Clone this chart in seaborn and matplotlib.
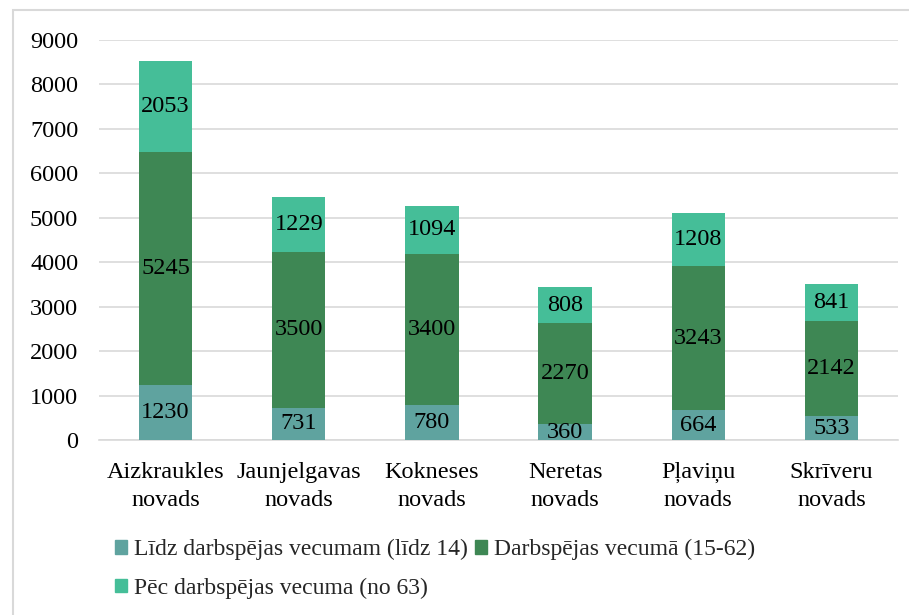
import pandas as pd
import seaborn as sns
import matplotlib.pyplot as plt
from matplotlib.patches import Rectangle

regions = ['Aizkraukles\nnovads', 'Jaunjelgavas\nnovads', 'Kokneses\nnovads',
           'Neretas\nnovads', 'Pļaviņu\nnovads', 'Skrīveru\nnovads']
young = [1230, 731, 780, 360, 664, 533]
working = [5245, 3500, 3400, 2270, 3243, 2142]
old = [2053, 1229, 1094, 808, 1208, 841]

series = ['Līdz darbspējas vecumam (līdz 14)', 'Darbspējas vecumā (15-62)',
          'Pēc darbspējas vecuma (no 63)']
colors = ['#5FA39F', '#3E8754', '#45BE98']

sns.set_style('white')
plt.rcParams['font.family'] = ['Liberation Serif', 'DejaVu Serif']
fs = 17.5

df = pd.DataFrame({'region': regions, 'young': young, 'working': working, 'old': old})
df['c1'] = df['young']
df['c2'] = df['young'] + df['working']
df['c3'] = df['c2'] + df['old']

fig = plt.figure(figsize=(9.09, 6.15), dpi=100)
ax = fig.add_axes([99 / 909, 1 - 440 / 615, (898 - 99) / 909, 400 / 615])

# draw cumulative totals from top to bottom so each layer overlaps the previous
for col, color in zip(['c3', 'c2', 'c1'], colors[::-1]):
    sns.barplot(data=df, x='region', y=col, color=color, width=0.4,
                saturation=1, ax=ax, zorder=3)

ax.set_ylim(0, 9000)
ax.set_yticks(range(0, 9001, 1000))
ax.yaxis.grid(True, color='#D9D9D9', linewidth=1.2, zorder=0)
ax.set_axisbelow(True)
for s in ['top', 'right', 'left']:
    ax.spines[s].set_visible(False)
ax.spines['bottom'].set_color('#D9D9D9')
ax.spines['bottom'].set_linewidth(1.2)
ax.tick_params(axis='both', length=0, labelsize=fs, colors='black')
ax.tick_params(axis='y', pad=15)
ax.tick_params(axis='x', pad=16)
ax.set_xticks(range(len(regions)))
ax.set_xticklabels(regions, linespacing=1.4)
ax.set_xlabel('')
ax.set_ylabel('')
ax.set_xlim(-0.5, len(regions) - 0.5)

for cont in ax.containers:
    for bar in cont:
        bar.set_edgecolor('none')

# segment labels at the middle of each stacked part
for i in range(len(regions)):
    bottoms = [0, young[i], young[i] + working[i]]
    for b, v in zip(bottoms, [young[i], working[i], old[i]]):
        ax.text(i, b + v / 2, str(v), ha='center', va='center', fontsize=fs, color='black', zorder=5)

handles = [Rectangle((0, 0), 1, 1, color=c) for c in colors]
order = [0, 2, 1]
leg = fig.legend([handles[k] for k in order], [series[k] for k in order], ncol=2,
                 loc='upper left', bbox_to_anchor=(94 / 909, 1 - 518 / 615),
                 frameon=False, fontsize=17, handlelength=0.5, handleheight=0.5,
                 handletextpad=0.3, columnspacing=0.3, labelspacing=0.72)

fig.add_artist(Rectangle((12.5 / 909, -0.05), 0.99, 1 - 10 / 615 + 0.05,
                         transform=fig.transFigure, fill=False, edgecolor='#D9D9D9', linewidth=1.5))

fig.savefig('out.png', dpi=100)
